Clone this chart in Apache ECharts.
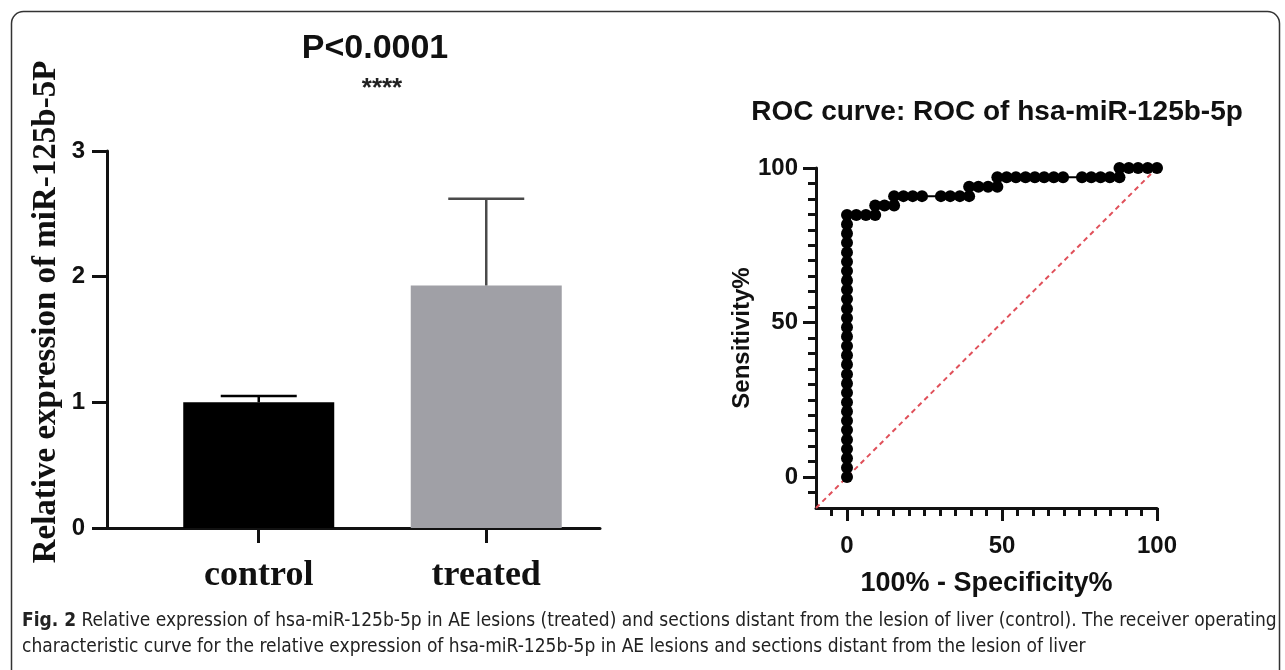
<!DOCTYPE html>
<html>
<head>
<meta charset="utf-8">
<script src="https://cdn.jsdelivr.net/npm/echarts@6/dist/echarts.min.js"></script>
<style>
  html, body { margin: 0; padding: 0; background: #fff; }
  #chart { width: 1285px; height: 670px; }
</style>
</head>
<body>
<div id="chart"></div>
<script>
// bar chart: relative expression
const groups = ['control', 'treated']
const groupPos = [1, 2]
const means = [1.0, 1.93]
const errTop = [1.05, 2.62]
const barColors = ['#000000', '#a0a0a6']
const errColors = ['#000000', '#4a4a4a']
const barYTicks = [0, 1, 2, 3]

// ROC curve: 100% - specificity vs sensitivity
const rocFpr = [
  0, 0, 0, 0, 0, 0, 0, 0, 0, 0, 0, 0, 0, 0, 0, 0, 0, 0, 0, 0, 0, 0, 0, 0, 0, 0, 0, 0, 0,
  3.0, 6.1, 9.1,
  9.1, 12.1, 15.2,
  15.2, 18.2, 21.2, 24.2, 30.3, 33.3, 36.4, 39.4,
  39.4, 42.4, 45.5, 48.5,
  48.5, 51.5, 54.5, 57.6, 60.6, 63.6, 66.7, 69.7, 75.8, 78.8, 81.8, 84.8, 87.9,
  87.9, 90.9, 93.9, 97.0, 100
]
const rocSens = [
  0, 3.0, 6.1, 9.1, 12.1, 15.2, 18.2, 21.2, 24.2, 27.3, 30.3, 33.3, 36.4, 39.4, 42.4,
  45.5, 48.5, 51.5, 54.5, 57.6, 60.6, 63.6, 66.7, 69.7, 72.7, 75.8, 78.8, 81.8, 84.8,
  84.8, 84.8, 84.8,
  87.9, 87.9, 87.9,
  90.9, 90.9, 90.9, 90.9, 90.9, 90.9, 90.9, 90.9,
  93.9, 93.9, 93.9, 93.9,
  97.0, 97.0, 97.0, 97.0, 97.0, 97.0, 97.0, 97.0, 97.0, 97.0, 97.0, 97.0, 97.0,
  100, 100, 100, 100, 100
]
const diagonal = [[-10, -10], [100, 100]]
const rocMajorTicks = [0, 50, 100]
const rocMinorTicks = [-5, 5, 10, 15, 20, 25, 30, 35, 40, 45, 55, 60, 65, 70, 75, 80, 85, 90, 95]

const sans = 'Liberation Sans, Arial, sans-serif'
const serif = 'Liberation Serif, Times New Roman, serif'
const narrow = 'Liberation Sans Narrow, DejaVu Sans Condensed, sans-serif'

const chart = echarts.init(document.getElementById('chart'))

const rocPoints = rocFpr.map((x, i) => [x, rocSens[i]])

chart.setOption({
  animation: false,
  backgroundColor: '#fff',
  title: [
    {
      text: 'P<0.0001', left: 370, top: 27, textAlign: 'center',
      textStyle: { fontFamily: sans, fontWeight: 'bold', fontSize: 34, color: '#111' }
    },
    {
      text: '****', left: 377, top: 71, textAlign: 'center',
      textStyle: { fontFamily: sans, fontWeight: 'bold', fontSize: 26, color: '#222' }
    },
    {
      text: 'ROC curve: ROC of hsa-miR-125b-5p', left: 992, top: 93, textAlign: 'center',
      textStyle: { fontFamily: sans, fontWeight: 'bold', fontSize: 28, color: '#111' }
    }
  ],
  grid: [
    { left: 107, top: 151, width: 493, bottom: 142 },
    { left: 816, top: 168, width: 341, bottom: 162 }
  ],
  xAxis: [
    {
      gridIndex: 0, type: 'value', min: 0.333, max: 2.5,
      splitLine: { show: false },
      axisLine: { lineStyle: { color: '#111', width: 3 } },
      axisTick: { customValues: groupPos, length: 15, lineStyle: { color: '#111', width: 3 } },
      axisLabel: {
        customValues: groupPos, margin: 30,
        formatter: v => groups[groupPos.indexOf(v)],
        fontFamily: serif, fontWeight: 'bold', fontSize: 36, color: '#111'
      }
    },
    {
      gridIndex: 1, type: 'value', min: -10, max: 100, position: 'bottom',
      splitLine: { show: false },
      axisLine: { onZero: false, lineStyle: { color: '#111', width: 3 } },
      axisTick: { customValues: rocMajorTicks, length: 13, lineStyle: { color: '#111', width: 3 } },
      axisLabel: {
        customValues: rocMajorTicks, margin: 26,
        fontFamily: sans, fontWeight: 'bold', fontSize: 24, color: '#111'
      },
      name: '100% - Specificity%', nameLocation: 'middle', nameGap: 62,
      nameTextStyle: { fontFamily: sans, fontWeight: 'bold', fontSize: 27, color: '#111' }
    },
    {
      gridIndex: 1, type: 'value', min: -10, max: 100, position: 'bottom',
      splitLine: { show: false },
      axisLine: { show: false, onZero: false },
      axisTick: { customValues: rocMinorTicks, length: 8, lineStyle: { color: '#111', width: 3 } },
      axisLabel: { show: false }
    }
  ],
  yAxis: [
    {
      gridIndex: 0, type: 'value', min: 0, max: 3, interval: 1,
      splitLine: { show: false },
      axisLine: { show: true, lineStyle: { color: '#111', width: 3 } },
      axisTick: { show: true, customValues: barYTicks, length: 15, lineStyle: { color: '#111', width: 3 } },
      axisLabel: { customValues: barYTicks, margin: 22, fontFamily: sans, fontWeight: 'bold', fontSize: 24, color: '#111' }
    },
    {
      gridIndex: 1, type: 'value', min: -10, max: 100, position: 'left',
      splitLine: { show: false },
      axisLine: { show: true, onZero: false, lineStyle: { color: '#111', width: 3 } },
      axisTick: { show: true, customValues: rocMajorTicks, length: 13, lineStyle: { color: '#111', width: 3 } },
      axisLabel: { customValues: rocMajorTicks, margin: 18, fontFamily: sans, fontWeight: 'bold', fontSize: 24, color: '#111' },
      name: 'Sensitivity%', nameLocation: 'middle', nameGap: 50,
      nameTextStyle: { fontFamily: sans, fontWeight: 'bold', fontSize: 24, color: '#111' }
    },
    {
      gridIndex: 1, type: 'value', min: -10, max: 100, position: 'left',
      splitLine: { show: false },
      axisLine: { show: false, onZero: false },
      axisTick: { show: true, customValues: rocMinorTicks, length: 8, lineStyle: { color: '#111', width: 3 } },
      axisLabel: { show: false }
    }
  ],
  series: [
    {
      type: 'bar', xAxisIndex: 0, yAxisIndex: 0, barWidth: 151,
      data: groupPos.map((x, i) => ({ value: [x, means[i]], itemStyle: { color: barColors[i] } }))
    },
    {
      type: 'custom', xAxisIndex: 0, yAxisIndex: 0, z: 5,
      data: groupPos.map((x, i) => [x, means[i], errTop[i]]),
      renderItem: (params, api) => {
        const base = api.coord([api.value(0), api.value(1)])
        const top = api.coord([api.value(0), api.value(2)])
        const c = errColors[params.dataIndex]
        const half = 38
        return {
          type: 'group',
          children: [
            { type: 'line', shape: { x1: base[0], y1: base[1], x2: top[0], y2: top[1] }, style: { stroke: c, lineWidth: 2.5 } },
            { type: 'line', shape: { x1: top[0] - half, y1: top[1], x2: top[0] + half, y2: top[1] }, style: { stroke: c, lineWidth: 2.5 } }
          ]
        }
      }
    },
    {
      type: 'line', xAxisIndex: 1, yAxisIndex: 1, data: diagonal,
      symbol: 'none', z: 1,
      lineStyle: { color: '#e0505a', width: 2, type: [5, 4] }
    },
    {
      type: 'line', xAxisIndex: 1, yAxisIndex: 1, data: rocPoints,
      symbol: 'circle', symbolSize: 12, z: 3,
      itemStyle: { color: '#000' },
      lineStyle: { color: '#000', width: 2 }
    }
  ],
  graphic: [
    {
      type: 'rect', left: 9, top: 9, z: -1,
      shape: { width: 1268, height: 720, r: 12 },
      style: { fill: 'none', stroke: '#333', lineWidth: 1.5 }
    },
    {
      type: 'text', x: 46, y: 312, rotation: Math.PI / 2,
      style: {
        text: 'Relative expression of miR-125b-5P',
        fontFamily: serif, fontWeight: 'bold', fontSize: 33, fill: '#111',
        align: 'center', verticalAlign: 'middle'
      }
    },
    {
      type: 'text', left: 22, top: 612,
      style: {
        text: '{b|Fig. 2} Relative expression of hsa-miR-125b-5p in AE lesions (treated) and sections distant from the lesion of liver (control). The receiver operating',
        fontFamily: narrow, fontSize: 19, fill: '#222',
        rich: { b: { fontFamily: narrow, fontWeight: 'bold', fontSize: 19, fill: '#222' } }
      }
    },
    {
      type: 'text', left: 22, top: 638,
      style: {
        text: 'characteristic curve for the relative expression of hsa-miR-125b-5p in AE lesions and sections distant from the lesion of liver',
        fontFamily: narrow, fontSize: 19, fill: '#222'
      }
    }
  ]
})
</script>
</body>
</html>
